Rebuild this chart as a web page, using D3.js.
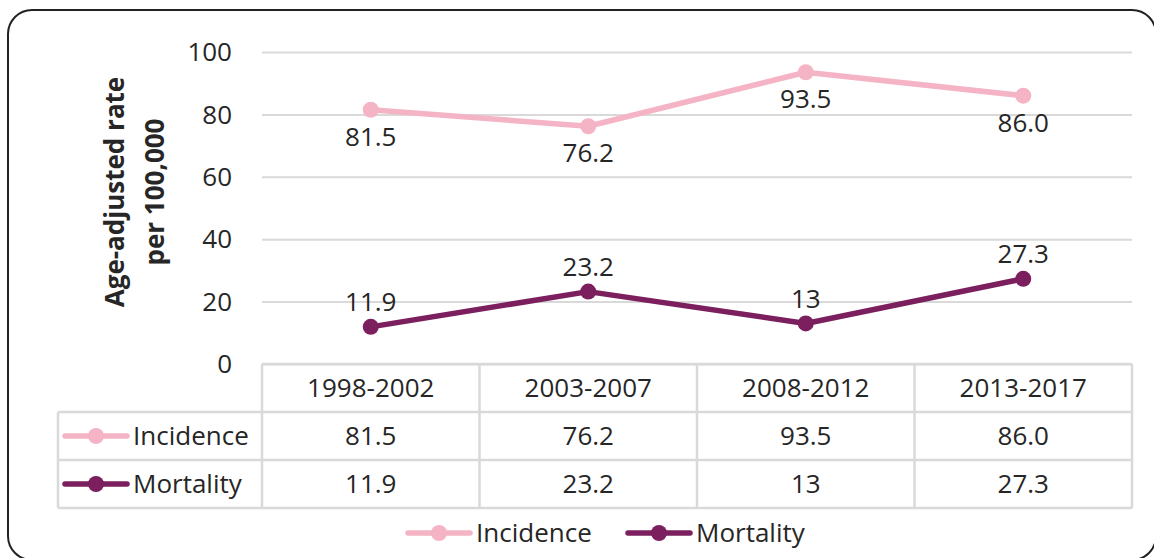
<!DOCTYPE html>
<html>
<head>
<meta charset="utf-8">
<script src="https://cdn.jsdelivr.net/npm/d3@7"></script>
<style>
  body { margin: 0; background: #fff; }
  svg { display: block; font-family: "Open Sans", sans-serif; }
</style>
</head>
<body>
<svg id="chart" width="1154" height="558"></svg>
<script>
var periods = ["1998-2002", "2003-2007", "2008-2012", "2013-2017"];
var incidence = [81.5, 76.2, 93.5, 86.0];
var mortality = [11.9, 23.2, 13, 27.3];
var incidenceLabels = ["81.5", "76.2", "93.5", "86.0"];
var mortalityLabels = ["11.9", "23.2", "13", "27.3"];
var yTicks = [0, 20, 40, 60, 80, 100];

var series = [
	{name: "Incidence", values: incidence, labels: incidenceLabels, color: "#f5b4c5", labelDy: 27},
	{name: "Mortality", values: mortality, labels: mortalityLabels, color: "#7b1f5f", labelDy: -25}
];

var svg = d3.select("#chart");
var textColor = "#262626";
var gridColor = "#d9d9d9";

// outer rounded frame (runs slightly past the right and bottom edges)
svg.append("rect")
	.attr("x", 8).attr("y", 10)
	.attr("width", 1148).attr("height", 550)
	.attr("rx", 24).attr("ry", 24)
	.attr("fill", "none")
	.attr("stroke", "#222")
	.attr("stroke-width", 2);

var plotLeft = 262, plotRight = 1132, plotTop = 52, plotBottom = 364;
var rowH = 48;
var tableLeft = 58;

var x = d3.scaleBand().domain(periods).range([plotLeft, plotRight]).padding(0);
var y = d3.scaleLinear().domain([0, 100]).range([plotBottom, plotTop]);
function cx(d){ return x(d) + x.bandwidth() / 2; }

// gridlines
var grid = svg.append("g")
	.attr("transform", "translate(" + plotLeft + ",0)")
	.call(d3.axisLeft(y).tickValues(yTicks).tickSize(-(plotRight - plotLeft)).tickFormat(""));
grid.select(".domain").remove();
grid.selectAll("line").attr("stroke", gridColor).attr("stroke-width", 2);

// y tick labels
svg.append("g").selectAll("text")
	.data(yTicks).enter().append("text")
	.attr("x", 232)
	.attr("y", function(d){ return y(d); })
	.attr("dy", "0.35em")
	.attr("text-anchor", "end")
	.attr("font-size", 26)
	.attr("fill", textColor)
	.text(function(d){ return d; });

// y axis title
svg.append("text")
	.attr("transform", "translate(134,192) rotate(-90)")
	.attr("text-anchor", "middle")
	.attr("font-size", 26)
	.attr("font-weight", "bold")
	.attr("fill", textColor)
	.selectAll("tspan")
	.data(["Age-adjusted rate", "per 100,000"]).enter().append("tspan")
	.attr("x", 0)
	.attr("y", function(d, i){ return i * 40 - 10; })
	.text(function(d){ return d; });

// lines and markers
var line = d3.line()
	.x(function(d, i){ return cx(periods[i]); })
	.y(function(d){ return y(d); });

series.forEach(function(s){
	var g = svg.append("g");
	g.append("path")
		.datum(s.values)
		.attr("d", line)
		.attr("fill", "none")
		.attr("stroke", s.color)
		.attr("stroke-width", 5.5)
		.attr("stroke-linejoin", "round");
	g.selectAll("circle")
		.data(s.values).enter().append("circle")
		.attr("cx", function(d, i){ return cx(periods[i]); })
		.attr("cy", function(d){ return y(d); })
		.attr("r", 8)
		.attr("fill", s.color);
	g.selectAll("text")
		.data(s.values).enter().append("text")
		.attr("x", function(d, i){ return cx(periods[i]); })
		.attr("y", function(d){ return y(d) + s.labelDy; })
		.attr("dy", "0.35em")
		.attr("text-anchor", "middle")
		.attr("font-size", 26)
		.attr("fill", textColor)
		.text(function(d, i){ return s.labels[i]; });
});

// data table
var table = svg.append("g")
	.attr("stroke", gridColor)
	.attr("stroke-width", 2.5);
var tableBottom = plotBottom + rowH * 3;
table.append("line").attr("x1", plotLeft).attr("x2", plotRight).attr("y1", plotBottom).attr("y2", plotBottom);
[1, 2, 3].forEach(function(r){
	table.append("line")
		.attr("x1", tableLeft).attr("x2", plotRight)
		.attr("y1", plotBottom + r * rowH).attr("y2", plotBottom + r * rowH);
});
table.append("line").attr("x1", tableLeft).attr("x2", tableLeft)
	.attr("y1", plotBottom + rowH).attr("y2", tableBottom);
periods.concat([null]).forEach(function(p){
	var xx = p === null ? plotRight : x(p);
	table.append("line").attr("x1", xx).attr("x2", xx)
		.attr("y1", plotBottom).attr("y2", tableBottom);
});

// header row
svg.append("g").selectAll("text")
	.data(periods).enter().append("text")
	.attr("x", cx)
	.attr("y", plotBottom + rowH / 2)
	.attr("dy", "0.35em")
	.attr("text-anchor", "middle")
	.attr("font-size", 26)
	.attr("fill", textColor)
	.text(function(d){ return d; });

function legendKey(g, s, lx, ly){
	g.append("line")
		.attr("x1", lx).attr("x2", lx + 62)
		.attr("y1", ly).attr("y2", ly)
		.attr("stroke", s.color)
		.attr("stroke-width", 5.5)
		.attr("stroke-linecap", "round");
	g.append("circle")
		.attr("cx", lx + 31).attr("cy", ly)
		.attr("r", 8)
		.attr("fill", s.color);
	g.append("text")
		.attr("x", lx + 68).attr("y", ly)
		.attr("dy", "0.35em")
		.attr("font-size", 26)
		.attr("fill", textColor)
		.text(s.name);
}

series.forEach(function(s, r){
	var rowY = plotBottom + rowH * (r + 1) + rowH / 2;
	var g = svg.append("g");
	legendKey(g, s, 65, rowY);
	g.selectAll("text.val")
		.data(s.values).enter().append("text")
		.attr("class", "val")
		.attr("x", function(d, i){ return cx(periods[i]); })
		.attr("y", rowY)
		.attr("dy", "0.35em")
		.attr("text-anchor", "middle")
		.attr("font-size", 26)
		.attr("fill", textColor)
		.text(function(d, i){ return s.labels[i]; });
});

// bottom legend
var legend = svg.append("g");
legendKey(legend, series[0], 408, 533);
legendKey(legend, series[1], 628, 533);
</script>
</body>
</html>
